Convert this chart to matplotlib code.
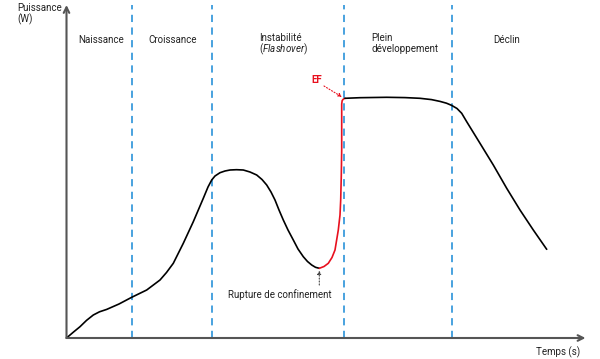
import numpy as np
import matplotlib
matplotlib.use("Agg")
import matplotlib.pyplot as plt

plt.rcParams['font.family'] = ['Roboto', 'DejaVu Sans']
plt.rcParams['mathtext.fontset'] = 'custom'
plt.rcParams['mathtext.rm'] = 'Roboto'
plt.rcParams['mathtext.it'] = 'Roboto:italic'

# schematic coordinates: t from axis origin, P upward
t_black1 = [0, 6.8, 13.5, 20, 26.8, 33, 40.2, 52.5, 65.2, 80.2, 93.5, 100, 106.8, 116.8,
            126.8, 136.8, 141.5, 145.2, 148.5, 153.5, 158.5, 163.5, 170, 176.8, 183.5,
            190.2, 195.5, 200.2, 204.5, 208.5, 212.5, 216.8, 221.5, 226.8, 231.5, 236.8,
            241, 245.2, 249, 252.8]
p_black1 = [0, 5.8, 11.3, 17.6, 23, 26.2, 28.6, 34, 40.7, 48, 58, 65.5, 74.7, 94.7,
            116.3, 139.7, 151, 158, 162, 165.3, 167, 168, 168.3, 168, 166,
            163, 158.5, 153, 146, 138, 128, 118, 108, 98, 89, 81.3,
            76.5, 73, 70.7, 69.7]
t_red = [252.8, 257.5, 261.8, 265.5, 268.5, 271.8, 273.5, 274.2, 274.8, 275.2, 275.2,
         275.2, 275.7, 277, 278.5]
p_red = [69.7, 71.5, 74.7, 80.5, 88, 108, 123, 138, 163, 188, 218,
         234, 237.5, 239, 239.7]
t_black2 = [278.5, 293.5, 320.2, 338.5, 353.5, 365, 373.5, 380, 385.2, 390.5, 395.2, 400.2,
            413.5, 426.8, 440.2, 453.5, 466.8, 480.2]
p_black2 = [239.7, 240.3, 240.7, 240.4, 239.7, 238.4, 236.6, 234.8, 232.6, 229.5, 224.7,
            216.3, 194.7, 173, 149.7, 128, 108, 88.7]

phase_x = [65.2, 145.2, 277.8, 385.2]
label_lines = ["Naissance", "Croissance", "Instabilité", r"($\mathit{Flashover}$)",
               "Plein", "développement", "Déclin"]
label_x = [11.5, 81.5, 192.5, 192.5, 304.5, 304.5, 426.5]
label_y = [298, 298, 300, 288.5, 300, 288.5, 298]

fig = plt.figure(figsize=(6, 3.59), dpi=100)
ax = fig.add_axes([0, 0, 1, 1])
ax.set_xlim(-66.5, 533.5)
ax.set_ylim(-21, 338)
ax.axis('off')

# axes arrows
axc = '#555555'
arrow = dict(arrowstyle='->', color=axc, lw=1.5, shrinkA=0, shrinkB=0, mutation_scale=10)
ax.annotate('', xy=(519, 0), xytext=(0, 0), arrowprops=arrow)
ax.annotate('', xy=(0, 333), xytext=(0, 0), arrowprops=arrow)

for x in phase_x:
    ax.plot([x, x], [0, 333], color='#3a9bdc', lw=1.3, ls=(0, (4, 3)))

for lab, x, y in zip(label_lines, label_x, label_y):
    ax.text(x, y, lab, fontsize=7, ha='left', va='center', color='#222222')

line_kw = dict(lw=1.2, solid_joinstyle='round', solid_capstyle='round')
ax.plot(t_black1, p_black1, color='black', **line_kw)
ax.plot(t_red, p_red, color='#e8101e', **line_kw)
ax.plot(t_black2, p_black2, color='black', **line_kw)

ax.text(-49.5, 330, "Puissance", fontsize=7, ha='left', va='center', color='#222222')
ax.text(-49.5, 319, "(W)", fontsize=7, ha='left', va='center', color='#222222')
ax.text(513.5, -14, "Temps (s)", fontsize=7, ha='right', va='center', color='#222222')

# EF annotation
ax.text(250.5, 258, "EF", fontsize=7, fontweight='bold', color='#e8101e',
        ha='center', va='center')
ax.annotate('', xy=(275.5, 241), xytext=(257.5, 252),
            arrowprops=dict(arrowstyle='-|>', color='#e8101e', lw=0.8, ls=':',
                            shrinkA=0, shrinkB=0, mutation_scale=5))

# rupture annotation
ax.text(213.5, 43, "Rupture de confinement", fontsize=7, ha='center', va='center',
        color='#222222')
ax.annotate('', xy=(252.8, 67.5), xytext=(252.8, 53),
            arrowprops=dict(arrowstyle='-|>', color='#444444', lw=0.8, ls=':',
                            shrinkA=0, shrinkB=0, mutation_scale=5))

fig.savefig('out.png', dpi=100)
